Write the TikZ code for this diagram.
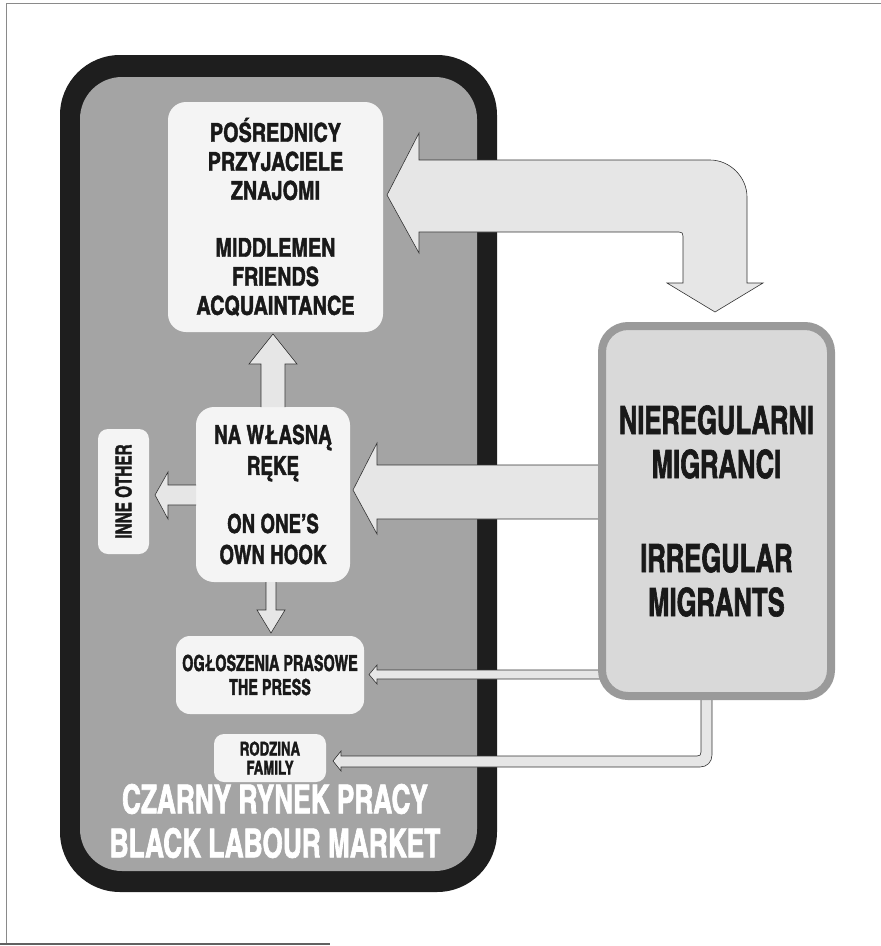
\documentclass[tikz,border=0pt]{standalone}
\usepackage{fontspec}
\newfontfamily\cnA{texgyreheroscn-bold.otf}[FakeStretch=0.93,FakeBold=1.6]
\newfontfamily\cnB{texgyreheroscn-bold.otf}[FakeStretch=0.88,FakeBold=1.6]
\newfontfamily\cnC{texgyreheroscn-bold.otf}[FakeStretch=0.80,FakeBold=1.6]
\newfontfamily\cnD{texgyreheroscn-bold.otf}[FakeStretch=0.85,FakeBold=1.6]
\definecolor{blk}{HTML}{1E1E1E}
\definecolor{midgray}{HTML}{A4A4A4}
\definecolor{boxwhite}{HTML}{F4F4F4}
\definecolor{arrowfill}{HTML}{E6E6E6}
\definecolor{migfill}{HTML}{D9D9D9}
\definecolor{migborder}{HTML}{9A9A9A}
\definecolor{framec}{HTML}{8A8A8A}
\tikzset{
  wbox/.style={draw=none, fill=boxwhite, rounded corners=#1, inner sep=0pt, align=center, text=black!90},
  wbox/.default=16pt,
  blockarrow/.style={fill=arrowfill, draw=black!80, line width=0.6pt, line join=miter},
}
\begin{document}
\begin{tikzpicture}[x=1pt,y=-1pt]
\useasboundingbox (0,0) rectangle (881,946);
% page frame
\draw[framec, line width=1pt] (881,3) -- (6,3) -- (6,944);
\draw[framec!70!black, line width=1.2pt] (0,944) -- (330,944);
% black labour market
\fill[blk, rounded corners=60pt] (60,55) rectangle (497,892);
\fill[midgray, rounded corners=42pt] (80,77) rectangle (477,871);
% white boxes
\node[wbox=18pt, minimum width=215pt, minimum height=230pt, font=\cnA\fontsize{26}{29}\selectfont] (pos) at (275.5,217)
  {POŚREDNICY\\PRZYJACIELE\\ZNAJOMI\\[28pt]MIDDLEMEN\\FRIENDS\\ACQUAINTANCE};
\node[wbox=18pt, minimum width=154pt, minimum height=175pt, font=\cnB\fontsize{26}{31}\selectfont] (own) at (273,494.5)
  {NA WŁASNĄ\\RĘKĘ\\[27pt]ON ONE’S\\OWN HOOK};
\node[wbox=10pt, minimum width=51pt, minimum height=125pt] (inne) at (123.5,491.5) {};
\node[rotate=90, font=\cnD\fontsize{22}{24}\selectfont, text=black!90] (innet) at (inne.center) {INNE OTHER};
\node[wbox=14pt, minimum width=188pt, minimum height=78pt, font=\cnC\fontsize{22}{24}\selectfont] (press) at (270,675)
  {OGŁOSZENIA PRASOWE\\THE PRESS};
\node[wbox=10pt, minimum width=112pt, minimum height=48pt, font=\cnD\fontsize{19}{19}\selectfont] (fam) at (270,758)
  {RODZINA\\FAMILY};
% market title
\node[font=\cnC\fontsize{40}{44}\selectfont, text=white, align=center] (market) at (275,821)
  {CZARNY RYNEK PRACY\\BLACK LABOUR MARKET};
% up arrow own -> pos
\draw[blockarrow] (261,407) -- (261,364) -- (249,364) -- (273,334) -- (297,364) -- (285,364) -- (285,407);
% down arrow own -> press
\draw[blockarrow] (266,582) -- (266,610) -- (257,610) -- (271,633) -- (285,610) -- (276,610) -- (276,582);
% left arrow own -> inne
\draw[blockarrow] (196,485) -- (168,485) -- (168,472) -- (155,495) -- (168,519) -- (168,505) -- (196,505);
% big double arrow pos <-> migrants
\draw[blockarrow] (387,195) -- (419,133) -- (419,160) -- (710,160)
  .. controls (730,160) and (747,177) .. (747,197)
  -- (747,283) -- (763,283) -- (715,312) -- (667,283) -- (683,283) -- (683,236)
  .. controls (683,233) and (682,232) .. (679,232)
  -- (419,232) -- (419,253) -- cycle;
% middle arrow migrants -> own
\draw[blockarrow] (610,465) -- (377,465) -- (377,443) -- (353,490) -- (377,534) -- (377,519) -- (610,519);
% press arrow
\draw[blockarrow] (610,670) -- (377,670) -- (377,665) -- (369,674.5) -- (377,684) -- (377,679) -- (610,679);
% family arrow
\draw[blockarrow] (712,690) -- (712,755) .. controls (712,762) and (707,767) .. (700,767)
  -- (341,767) -- (341,771) -- (333,761) -- (341,751) -- (341,756) -- (697,756)
  .. controls (700,756) and (701,755) .. (701,752) -- (701,690);
% migrants box
\node[draw=migborder, line width=8pt, fill=migfill, rounded corners=26pt, minimum width=229pt, minimum height=370pt,
  inner sep=0pt, align=center, text=black!90, font=\cnC\fontsize{39}{44}\selectfont] (mig) at (716.5,511)
  {NIEREGULARNI\\MIGRANCI\\[50pt]IRREGULAR\\MIGRANTS};
\end{tikzpicture}
\end{document}
